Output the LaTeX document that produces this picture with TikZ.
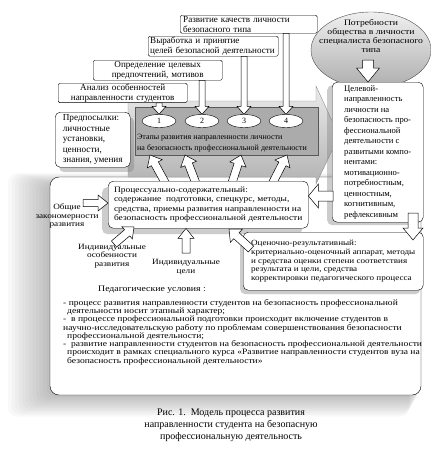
\documentclass[tikz,border=0pt]{standalone}
\usepackage{fontspec}
\setmainfont{Liberation Serif}
\newfontfamily\wide{Liberation Serif}[FakeStretch=1.15]
\usetikzlibrary{calc,shadows,shapes.geometric}

\newcommand{\fsz}[2]{\fontsize{#1}{#2}\selectfont}
% полая стрелка: откуда, куда, полуширина стержня, полуширина головки, длина головки
\newcommand{\hollowarrow}[5]{%
  \coordinate (ha-base) at ($(#2)!#5!(#1)$);
  \draw[hollow] ($(#1)!#3!90:(#2)$) -- ($(ha-base)!#3!90:(#2)$)
    -- ($(ha-base)!#4!90:(#2)$) -- (#2) -- ($(ha-base)!#4!-90:(#2)$)
    -- ($(ha-base)!#3!-90:(#2)$) -- ($(#1)!#3!-90:(#2)$) -- cycle;}

\tikzset{
  hollow/.style={draw=black, fill=white, line width=0.5pt, line join=miter},
  topbox/.style={draw, fill=white, rounded corners=1.5pt, inner xsep=3pt,
    inner ysep=0.5pt, font=\fsz{9.1}{10}},
  roundbox/.style={draw, fill=white, rounded corners=5pt, inner xsep=2pt, inner ysep=1pt, align=left},
  boxshadow/.style 2 args={drop shadow={shadow xshift=#1, shadow yshift=#2, opacity=0.4}},
  stage/.style={draw, fill=white, ellipse, minimum width=34pt, minimum height=13pt,
    inner sep=0pt, font=\fsz{8}{8}},
  sidetext/.style={align=center, inner sep=0pt, font=\wide\fsz{8}{8.7}},
}

\begin{document}
\begin{tikzpicture}[x=1pt,y=-1pt]
\useasboundingbox (0,0) rectangle (431,453);

% мягкая тень внешней рамки
\foreach \i in {1,...,12}
  \fill[black, opacity=0.025, rounded corners=9pt] (50-3.5*\i,185-\i) rectangle (421-\i,395+1.8*\i);
% внешняя рамка
\draw[fill=white, rounded corners=9pt] (50,177) rectangle (421,395);

% большая стрелка этапов
\shadedraw[top color=black!8, bottom color=black!30, draw=black!45]
  (128,101) -- (316,101) -- (316,86) -- (339,136) -- (316,184) -- (316,177) -- (128,177) -- cycle;
\draw[fill=black!33, draw=black!65] (135,107) rectangle (318,155);
\node[stage] (e1) at (159,121) {1};
\node[stage] (e2) at (202,121) {2};
\node[stage] (e3) at (244,121) {3};
\node[stage] (e4) at (286,121) {4};
\node[anchor=west, align=left, inner sep=0pt, font=\fsz{8}{11}] (stagetext) at (137,143.5)
  {Этапы развития направленности личности\\на безопасность профессиональной деятельности};

% верхние блоки
\node[topbox, anchor=north west, text width=131pt, minimum height=18pt, align=left] (t1) at (180,15)
  {Развитие качеств личности\\безопасного типа};
\node[topbox, anchor=north west, inner xsep=2pt, text width=126pt, minimum height=20pt, align=left] (t2) at (148,36)
  {Выработка и принятие\\целей безопасной деятельности};
\node[topbox, anchor=north west, text width=123pt, minimum height=20pt, align=center] (t3) at (93,60)
  {Определение целевых\\предпочтений, мотивов};
\node[topbox, anchor=north west, text width=123pt, minimum height=19pt, align=center] (t4) at (58,83)
  {Анализ особенностей\\направленности студентов};
\coordinate (a1) at (e1 |- t4.south);
\coordinate (a2) at (e2 |- t3.south);
\coordinate (a3) at (e3 |- t2.south);
\coordinate (a4) at (e4 |- t1.south);
\foreach \k in {1,...,4}{
  \hollowarrow{a\k}{e\k.north}{3pt}{7pt}{8pt}
}

% потребности общества
\node[draw=black!70, ellipse, top color=black!6, bottom color=black!32,
  minimum width=120pt, minimum height=76pt] (needs) at (371,50) {};
\node[align=center, inner sep=0pt, font=\wide\fsz{8.4}{9.3}] (needs-text) at (371,36)
  {Потребности\\общества в личности\\специалиста безопасного\\типа};

% целевой блок
\node[roundbox, boxshadow={-5pt}{-3pt}, anchor=north west, minimum width=91pt,
  minimum height=140pt, font=\fsz{8.6}{10.5}] (goal) at (332,82)
  {Целевой-\\направленность\\личности на\\безопасность про-\\фессиональной\\деятельности с\\развитыми компо-\\нентами:\\мотивационно-\\потребностным,\\ценностным,\\когнитивным,\\рефлексивным};
\coordinate (n1) at (368,60);
\coordinate (n2) at (n1 |- goal.north);
\hollowarrow{n1}{n2}{5.5pt}{11.5pt}{14pt}

% предпосылки
\node[roundbox, boxshadow={4pt}{-5pt}, anchor=north west, minimum width=75pt,
  minimum height=55pt, font=\fsz{9.2}{10.5}] (prem) at (55,112)
  {Предпосылки:\\личностные\\установки,\\ценности,\\знания, умения};

% стрелки к этапам
\coordinate (u1) at (167,186); \coordinate (v1) at (150,155);
\coordinate (u2) at (197,186); \coordinate (v2) at (185,155);
\coordinate (u3) at (231,186); \coordinate (v3) at (241,155);
\coordinate (u4) at (271,186); \coordinate (v4) at (287,155);
\foreach \k in {1,...,4}{
  \hollowarrow{u\k}{v\k}{4pt}{8.5pt}{10pt}
}

% процессуально-содержательный блок
\node[roundbox, boxshadow={-6pt}{-6pt}, anchor=north west, minimum width=200pt,
  minimum height=47pt, font=\wide\fsz{8.2}{9.5}] (proc) at (108,181)
  {Процессуально-содержательный:\\содержание\ \ подготовки, спецкурс, методы,\\средства, приемы развития направленности на\\безопасность профессиональной деятельности};
\coordinate (g1) at (333,196);
\coordinate (g2) at (proc.east |- g1);
\hollowarrow{g1}{g2}{5pt}{12pt}{10pt}

% внешние факторы
\node[sidetext] (common) at (67,216) {Общие\\закономерности\\развития};
\coordinate (c1) at (83,203);
\coordinate (c2) at (proc.west |- c1);
\hollowarrow{c1}{c2}{3.5pt}{8pt}{10pt}
\node[sidetext] (indiv) at (112,256) {Индивидуальные\\особенности\\развития};
\coordinate (i1) at (114,244); \coordinate (i2) at (134,227);
\hollowarrow{i1}{i2}{4pt}{8pt}{9pt}
\node[sidetext] (aims) at (186,267) {Индивидуальные\\цели};
\coordinate (j1) at (186,253);
\coordinate (j2) at (proc.south -| j1);
\hollowarrow{j1}{j2}{4pt}{8pt}{10pt}

% оценочно-результативный блок
\node[roundbox, boxshadow={-3pt}{-4pt}, anchor=north west, minimum width=180pt,
  minimum height=58pt, font=\wide\fsz{7.9}{8.8}] (eval) at (243,232)
  {Оценочно-результативный:\\критериально-оценочный аппарат, методы\\и средства оценки степени соответствия\\результата и цели, средства\\корректировки педагогического процесса};
\coordinate (k1) at (251,249); \coordinate (k2) at (229,229);
\hollowarrow{k1}{k2}{4pt}{9pt}{10pt}
\coordinate (m1) at (413,213); \coordinate (m2) at (413,240);
\hollowarrow{m1}{m2}{5pt}{10pt}{12pt}

% педагогические условия
\node[inner sep=0pt, font=\wide\fsz{8.5}{9}] (condtitle) at (152,290) {Педагогические условия :};
\node[anchor=north west, inner sep=0pt, align=left, font=\wide\fsz{8.3}{8.3}] (cond) at (63,299)
  {- процесс развития направленности студентов на безопасность профессиональной\\
   \hspace*{4pt}деятельности носит этапный характер;\\
   -\ \ в процессе профессиональной подготовки происходит включение студентов в\\
   научно-исследовательскую работу по проблемам совершенствования безопасности\\
   \hspace*{4pt}профессиональной деятельности;\\
   -\ \ развитие направленности студентов на безопасность профессиональной деятельности\\
   \hspace*{4pt}происходит в рамках специального курса «Развитие направленности студентов вуза на\\
   \hspace*{4pt}безопасность профессиональной деятельности»};

% подпись
\node[align=center, inner sep=0pt, font=\fsz{10}{12}] (caption) at (231,425)
  {Рис. 1.\ \ Модель процесса развития\\направленности студента на безопасную\\профессиональную деятельность};
\end{tikzpicture}
\end{document}
